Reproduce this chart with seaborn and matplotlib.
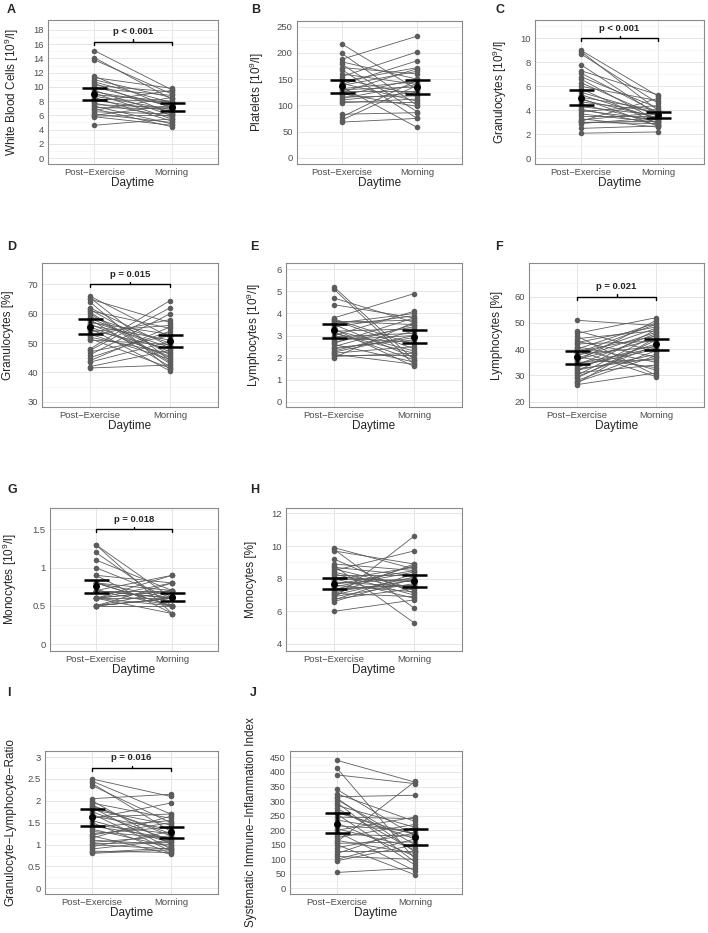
import numpy as np
import pandas as pd
import seaborn as sns
import matplotlib
matplotlib.use('Agg')
import matplotlib.pyplot as plt
from matplotlib.ticker import MultipleLocator

# categories on the x axis
daytimes = ['Post\u2212Exercise', 'Morning']

# paired values per panel (post-exercise, morning)
wbc_post = [15.1, 14.1, 13.8, 11.5, 11.3, 11.0, 10.7, 10.5, 10.2, 10.0, 9.8, 9.5, 9.3, 9.1, 8.9, 8.7,
            8.5, 8.3, 8.1, 7.9, 7.7, 7.5, 7.3, 7.1, 6.9, 6.7, 6.5, 6.2, 6.0, 5.9, 5.8, 4.6]
wbc_morn = [9.6, 8.3, 9.0, 7.0, 9.8, 8.5, 7.8, 6.3, 9.3, 7.2, 8.8, 6.0, 7.5, 5.5, 8.0, 6.8,
            5.2, 7.9, 6.6, 9.5, 5.8, 7.1, 4.8, 6.9, 4.4, 8.5, 6.2, 5.0, 7.4, 6.0, 4.6, 5.5]

plt_post = [217, 199, 188, 183, 178, 172, 168, 160, 155, 150, 146, 142, 140, 138, 135,
            132, 130, 128, 125, 122, 119, 116, 113, 110, 107, 105, 83, 78, 72, 68]
plt_morn = [130, 100, 232, 150, 88, 160, 75, 140, 202, 120, 172, 108, 185, 165, 58,
            145, 135, 128, 170, 98, 150, 118, 140, 125, 105, 112, 86, 148, 138, 75]

gran_post = [9.0, 8.9, 8.7, 7.8, 7.3, 7.1, 6.8, 6.6, 6.3, 6.0, 5.8, 5.5, 5.3, 5.1, 5.0, 4.9,
             4.7, 4.5, 4.3, 4.1, 4.0, 3.9, 3.7, 3.5, 3.3, 3.2, 3.1, 3.0, 3.0, 2.9, 2.5, 2.1]
gran_morn = [5.2, 4.0, 4.6, 3.6, 5.3, 3.8, 4.2, 3.1, 3.5, 4.8, 2.9, 3.7, 3.3, 4.0, 2.7, 3.4,
             3.9, 3.0, 3.6, 2.8, 3.2, 4.4, 3.0, 3.5, 2.6, 3.8, 5.0, 3.1, 2.9, 3.4, 2.7, 2.2]

granp_post = [66, 65.5, 65, 64, 62, 61.5, 61, 60, 59, 58.5, 58, 57, 56.5, 56, 55, 54.5, 54,
              53, 52.5, 52, 51.5, 51, 48, 47.5, 47, 46, 45, 44, 43.5, 42, 41.5, 60.5, 57.5, 55.5]
granp_morn = [52, 44, 57, 41, 49, 46, 55, 43, 50, 47, 42, 53, 45, 51, 40.5, 48, 56,
              44.5, 58, 46.5, 41.5, 49.5, 64.5, 62, 52.5, 60, 54, 55.5, 50.5, 47.5, 42.5, 43.5, 48.5, 45.5]

lym_post = [5.2, 5.1, 4.7, 4.4, 3.8, 3.7, 3.6, 3.5, 3.4, 3.3, 3.2, 3.1, 3.0, 2.9, 2.8, 2.7, 2.6,
            2.5, 2.4, 2.3, 2.2, 2.1, 2.0, 3.75, 3.55, 3.25, 2.95, 2.65, 2.45, 2.25, 2.15, 2.05, 3.65, 3.15]
lym_morn = [1.9, 1.7, 3.6, 3.8, 4.9, 2.4, 3.7, 2.0, 3.9, 1.6, 3.3, 2.2, 4.1, 2.7, 3.0, 3.4, 1.8,
            3.5, 2.9, 3.2, 2.5, 2.1, 3.6, 2.6, 4.0, 2.3, 3.1, 3.8, 2.8, 3.0, 1.7, 2.2, 3.5, 1.9]

lymp_post = [51, 47, 46, 45, 44, 43, 42, 41, 40, 39.5, 39, 38, 37.5, 37, 36, 35.5, 35, 34,
             33.5, 33, 32, 31.5, 31, 30, 29.5, 29, 28, 27.5, 27, 26.5, 38.5, 36.5, 34.5, 32.5, 40.5, 42.5]
lymp_morn = [49, 39, 52, 30, 47, 37, 43, 35, 50, 29.5, 45, 41, 48, 33, 44, 51, 36, 46,
             40, 42, 38, 47.5, 34, 45.5, 41.5, 43.5, 39.5, 37.5, 44.5, 31, 49.5, 46.5, 40.5, 36.5, 32, 48.5]

mono_post = [1.3, 1.3, 1.2, 1.1, 1.0, 0.9, 0.9, 0.8, 0.8, 0.8, 0.7, 0.7, 0.7, 0.7, 0.7,
             0.6, 0.6, 0.6, 0.6, 0.6, 0.6, 0.5, 0.5, 0.5, 0.5, 0.5, 0.7, 0.8, 0.6, 0.5]
mono_morn = [0.4, 0.6, 0.5, 0.7, 0.6, 0.4, 0.8, 0.5, 0.6, 0.7, 0.9, 0.6, 0.5, 0.7, 0.6,
             0.9, 0.5, 0.6, 0.7, 0.4, 0.8, 0.6, 0.5, 0.7, 0.6, 0.8, 0.6, 0.5, 0.7, 0.6]

monop_post = [9.9, 9.8, 9.7, 9.2, 8.9, 8.8, 8.6, 8.5, 8.3, 8.2, 8.1, 8.0, 7.9, 7.8, 7.7, 7.6, 7.5,
              7.4, 7.3, 7.2, 7.1, 7.0, 6.9, 6.8, 6.7, 6.6, 6.0, 8.4, 7.65, 7.35, 7.05, 6.75, 8.7, 7.95]
monop_morn = [8.6, 6.2, 8.9, 7.1, 8.5, 5.3, 7.4, 9.7, 7.0, 8.2, 7.8, 6.8, 8.7, 7.5, 8.0, 7.2, 8.4,
              7.6, 8.8, 7.9, 6.9, 8.1, 7.7, 10.6, 8.3, 8.0, 6.7, 7.3, 8.5, 7.6, 8.9, 7.4, 8.2, 7.9]

glr_post = [2.5, 2.45, 2.4, 2.35, 2.05, 2.0, 1.95, 1.9, 1.85, 1.8, 1.75, 1.7, 1.65, 1.6, 1.55, 1.5, 1.45, 1.4,
            1.35, 1.3, 1.25, 1.2, 1.15, 1.1, 1.05, 1.0, 0.95, 0.9, 0.85, 0.8, 0.82, 1.02, 1.22, 1.42, 1.62, 1.88]
glr_morn = [2.1, 1.7, 1.3, 1.5, 2.15, 1.0, 1.6, 1.2, 0.9, 1.45, 1.1, 0.85, 1.35, 1.95, 1.05, 0.8, 1.25, 1.55,
            0.95, 1.15, 1.4, 0.78, 1.65, 1.0, 1.2, 0.9, 1.3, 1.1, 0.82, 0.88, 0.92, 1.05, 1.5, 1.15, 1.7, 1.25]

sii_post = [440, 413, 390, 340, 325, 315, 305, 295, 285, 275, 265, 255, 245, 235, 225, 215, 205,
            195, 185, 175, 165, 160, 155, 150, 140, 130, 120, 110, 100, 95, 55, 310, 260, 200]
sii_morn = [365, 100, 360, 180, 230, 320, 150, 90, 210, 130, 170, 80, 240, 190, 110, 200, 140,
            60, 180, 220, 120, 368, 160, 47, 190, 130, 210, 100, 170, 150, 70, 125, 185, 245]

# mean and 95% CI shown as error bars, per panel
post_mean = [9.0, 137, 5.05, 55.6, 3.25, 37.1, 0.76, 7.7, 1.63, 223]
post_lo = [8.15, 123, 4.42, 53.0, 2.9, 34.4, 0.67, 7.37, 1.43, 189]
post_hi = [9.9, 148, 5.69, 58.1, 3.51, 39.4, 0.84, 8.05, 1.81, 260]
morn_mean = [7.13, 135, 3.6, 50.7, 2.95, 42.0, 0.62, 7.85, 1.28, 177]
morn_lo = [6.61, 122, 3.33, 48.5, 2.65, 39.7, 0.56, 7.46, 1.16, 148]
morn_hi = [7.69, 148, 3.86, 52.7, 3.25, 44.0, 0.67, 8.2, 1.41, 205]

panel_letters = ['A', 'B', 'C', 'D', 'E', 'F', 'G', 'H', 'I', 'J']
sup9 = r'$\mathregular{10^9}$'
ylabels = ['White Blood Cells [' + sup9 + '/l]', 'Platelets [' + sup9 + '/l]',
           'Granulocytes [' + sup9 + '/l]', 'Granulocytes [%]',
           'Lymphocytes [' + sup9 + '/l]', 'Lymphocytes [%]',
           'Monocytes [' + sup9 + '/l]', 'Monocytes [%]',
           'Granulocyte\u2212Lymphocyte\u2212Ratio', 'Systematic Immune\u2212Inflammation Index']
p_texts = ['p < 0.001', None, 'p < 0.001', 'p = 0.015', None, 'p = 0.021', 'p = 0.018', None, 'p = 0.016', None]
bracket_y = [16.37, None, 10.0, 70, None, 60, 1.5, None, 2.75, None]
ylims = [(-0.84, 19.4), (-12, 261), (-0.47, 11.53), (28.2, 77.3), (-0.24, 6.29),
         (18, 72.8), (-0.09, 1.78), (3.57, 12.33), (-0.13, 3.14), (-19, 472)]
ytick_start = [0, 0, 0, 30, 0, 20, 0, 4, 0, 0]
ytick_stop = [18, 250, 10, 70, 6, 60, 1.5, 12, 3, 450]
ytick_step = [2, 50, 2, 10, 1, 10, 0.5, 2, 0.5, 50]

values = [(wbc_post, wbc_morn), (plt_post, plt_morn), (gran_post, gran_morn),
          (granp_post, granp_morn), (lym_post, lym_morn), (lymp_post, lymp_morn),
          (mono_post, mono_morn), (monop_post, monop_morn), (glr_post, glr_morn),
          (sii_post, sii_morn)]

# layout in pixels: axes box (left, top, right, bottom), ylabel distance, letter position
W, H = 708, 933
boxes = [(48, 20, 218, 164), (297, 21, 462, 164), (535, 20, 704, 164),
         (42, 263, 218, 407), (286, 263, 462, 407), (529, 263, 704, 407),
         (50, 508, 218, 651), (286, 508, 462, 651),
         (45, 751, 218, 894), (290, 751, 462, 894)]
ylabel_dist = [36, 40, 35, 34, 32, 32, 40, 35, 35, 39]
letter_pos = [(7, 10), (251, 10), (495, 10), (7, 247), (250, 247), (495, 247),
              (7, 490), (250, 490), (7, 693), (250, 693)]

sns.set_style('white')
plt.rcParams['font.family'] = ['Liberation Sans', 'DejaVu Sans']
plt.rcParams['mathtext.fontset'] = 'custom'
plt.rcParams['mathtext.rm'] = 'Liberation Sans'

fig = plt.figure(figsize=(W / 100, H / 100), dpi=100)

point_col = '#5c5c5c'

for i in range(10):
    l, t, r, b = boxes[i]
    ax = fig.add_axes([l / W, 1 - b / H, (r - l) / W, (b - t) / H])
    post, morn = values[i]
    n = len(post)
    df = pd.DataFrame({
        'subject': np.tile(np.arange(n), 2),
        'x': np.repeat([0, 1], n),
        'value': list(post) + list(morn),
    })
    sns.lineplot(data=df, x='x', y='value', units='subject', estimator=None,
                 color=point_col, lw=0.6, ax=ax, legend=False, zorder=2)
    sns.scatterplot(data=df, x='x', y='value', color=point_col, s=16,
                    linewidth=0, ax=ax, zorder=3)

    means = [post_mean[i], morn_mean[i]]
    lo = [post_mean[i] - post_lo[i], morn_mean[i] - morn_lo[i]]
    hi = [post_hi[i] - post_mean[i], morn_hi[i] - morn_mean[i]]
    ax.errorbar([0, 1], means, yerr=[lo, hi], fmt='o', color='black', ms=4,
                capsize=9, capthick=1.8, elinewidth=1.8, zorder=5)

    ax.set_xlim(-0.6, 1.6)
    ax.set_ylim(*ylims[i])
    ticks = np.arange(ytick_start[i], ytick_stop[i] + ytick_step[i] / 2, ytick_step[i])
    ax.set_yticks(ticks)
    ax.set_yticklabels(['{:g}'.format(round(v, 2)) for v in ticks])
    ax.yaxis.set_minor_locator(MultipleLocator(ytick_step[i] / 2))
    ax.set_xticks([0, 1])
    ax.set_xticklabels(daytimes)

    ax.set_axisbelow(True)
    ax.grid(True, which='major', color='#e6e6e6', lw=0.7)
    ax.grid(True, which='minor', axis='y', color='#f2f2f2', lw=0.4)
    for s in ax.spines.values():
        s.set_color('#8a8a8a')
        s.set_linewidth(0.8)
    ax.tick_params(which='major', length=2, width=0.6, color='#555555', pad=1,
                   labelsize=6.8, labelcolor='#4d4d4d')
    ax.tick_params(which='minor', length=0)

    ax.set_xlabel('Daytime', fontsize=8.5, va='center')
    ax.xaxis.set_label_coords(0.5, -19 / (b - t))
    ax.set_ylabel(ylabels[i], fontsize=8.5, va='center')
    ax.yaxis.set_label_coords(-ylabel_dist[i] / (r - l), 0.5)

    if p_texts[i] is not None:
        span = ylims[i][1] - ylims[i][0]
        px = span / (b - t)
        yb = bracket_y[i]
        ax.plot([0, 0, 1, 1], [yb - 3 * px, yb, yb, yb - 3 * px], color='black', lw=1, zorder=4)
        ax.plot([0.5, 0.5], [yb, yb + 2.5 * px], color='black', lw=1, zorder=4)
        ax.annotate(p_texts[i], (0.5, yb), xytext=(0, 4), textcoords='offset points',
                    ha='center', va='bottom', fontsize=6.8, fontweight='bold')

    lx, ly = letter_pos[i]
    fig.text(lx / W, 1 - ly / H, panel_letters[i], fontsize=9, fontweight='bold',
             ha='left', va='center')

fig.savefig('out.png', dpi=100)
